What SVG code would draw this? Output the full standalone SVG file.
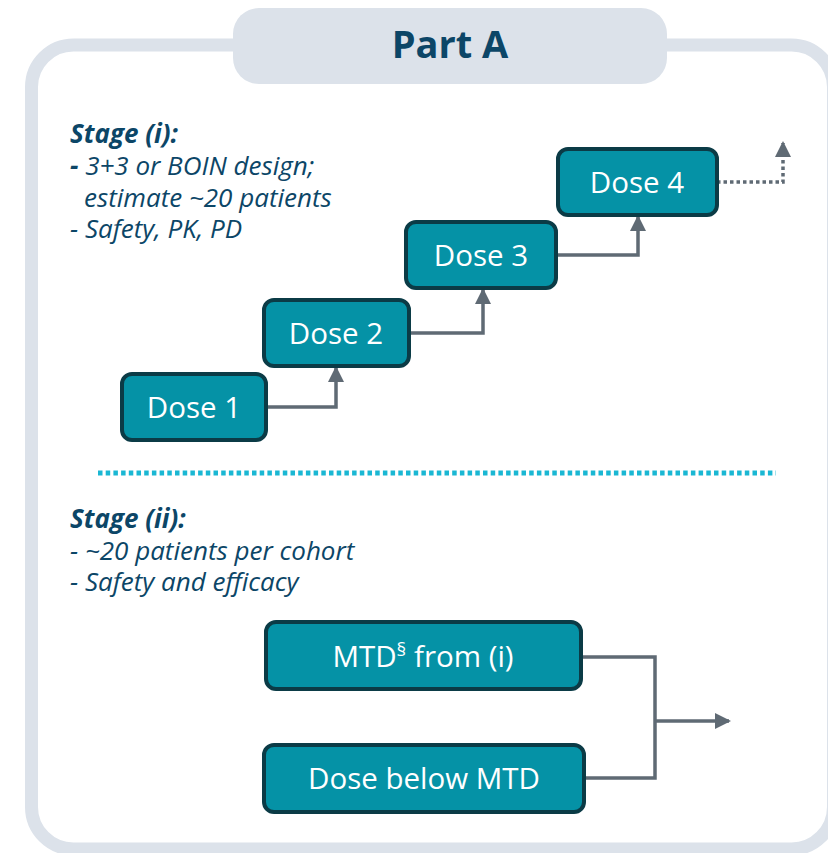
<svg xmlns="http://www.w3.org/2000/svg" width="828" height="853" viewBox="0 0 828 853">
<style>
.frame{fill:#ffffff;stroke:#dce2ea;stroke-width:13}
.pill{fill:#dce2ea}
.title{font-family:"Open Sans","DejaVu Sans",sans-serif;font-weight:700;font-size:38px;fill:#0c4667;text-anchor:middle}
.note{font-family:"Open Sans","DejaVu Sans",sans-serif;font-style:italic;font-size:26px;fill:#0c4667}
.noteb{font-weight:700}
.box{fill:#0592a6;stroke:#0b3b46;stroke-width:4}
.lbl{font-family:"Open Sans","DejaVu Sans",sans-serif;font-size:29.5px;fill:#ffffff;text-anchor:middle}
.conn{fill:none;stroke:#5f6a74;stroke-width:3.5}
.dot{fill:none;stroke:#5f6a74;stroke-width:3.5;stroke-dasharray:3.5 3}
.div{fill:none;stroke:#1ab7d3;stroke-width:5;stroke-dasharray:4.5 3.2}
</style>
<defs>
<marker id="arr" viewBox="0 0 16 16" refX="14" refY="8" markerWidth="16" markerHeight="16" orient="auto" markerUnits="userSpaceOnUse">
<path d="M0,0 L16,8 L0,16 z" fill="#5f6a74"/>
</marker>
</defs>
<g id="frame">
<rect class="frame" x="31.5" y="45" width="802" height="804" rx="42"/>
<rect class="pill" x="233" y="8" width="434" height="76" rx="26"/>
<text class="title" x="450" y="58">Part A</text>
</g>
<g id="stage-i-notes">
<text class="note noteb" x="70" y="143">Stage (i):</text>
<text class="note" x="70" y="175"><tspan class="noteb">-</tspan> 3+3 or BOIN design;</text>
<text class="note" x="84" y="207">estimate ~20 patients</text>
<text class="note" x="70" y="238">- Safety, PK, PD</text>
</g>
<g id="divider">
<line class="div" x1="98" y1="473" x2="776" y2="473"/>
</g>
<g id="stage-ii-notes">
<text class="note noteb" x="70" y="528">Stage (ii):</text>
<text class="note" x="70" y="560">- ~20 patients per cohort</text>
<text class="note" x="70" y="591">- Safety and efficacy</text>
</g>
<g id="connectors">
<path class="conn" d="M266,407 H336 V368" marker-end="url(#arr)"/>
<path class="conn" d="M409,333 H483 V290" marker-end="url(#arr)"/>
<path class="conn" d="M556,255 H638 V217" marker-end="url(#arr)"/>
<path class="dot" d="M717,182 H783 V143" marker-end="url(#arr)"/>
<path class="conn" d="M582,657 H655 V778 H585"/>
<path class="conn" d="M655,721 H729" marker-end="url(#arr)"/>
</g>
<g id="dose1">
<rect class="box" x="122" y="374" width="144" height="66" rx="10"/>
<text class="lbl" x="194" y="418">Dose 1</text>
</g>
<g id="dose2">
<rect class="box" x="264" y="300" width="145" height="66" rx="10"/>
<text class="lbl" x="336" y="344">Dose 2</text>
</g>
<g id="dose3">
<rect class="box" x="406" y="222" width="150" height="66" rx="10"/>
<text class="lbl" x="481" y="266">Dose 3</text>
</g>
<g id="dose4">
<rect class="box" x="558" y="149" width="159" height="66" rx="10"/>
<text class="lbl" x="637" y="193">Dose 4</text>
</g>
<g id="mtd">
<rect class="box" x="266" y="622" width="315" height="67" rx="10"/>
<text class="lbl" x="423" y="667">MTD<tspan font-size="19" dy="-11">§</tspan><tspan dy="11"> from (i)</tspan></text>
</g>
<g id="dose-below">
<rect class="box" x="264" y="745" width="320" height="67" rx="10"/>
<text class="lbl" x="424" y="789">Dose below MTD</text>
</g>
</svg>
